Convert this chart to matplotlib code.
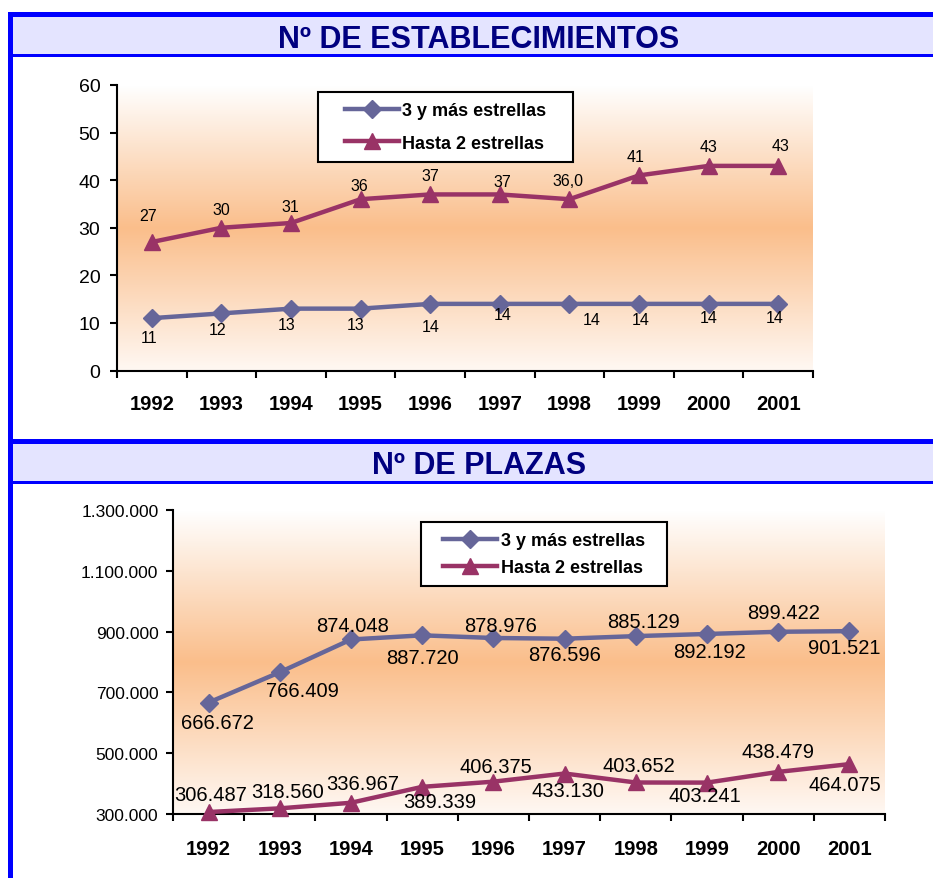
import matplotlib
matplotlib.use('Agg')
import matplotlib.pyplot as plt
import numpy as np
from matplotlib.patches import Rectangle
from matplotlib.colors import LinearSegmentedColormap

plt.rcParams['font.family'] = ['Liberation Sans', 'DejaVu Sans']

# Datos
years = ['1992', '1993', '1994', '1995', '1996', '1997', '1998', '1999', '2000', '2001']
series_names = ['3 y más estrellas', 'Hasta 2 estrellas']

est_3mas = [11, 12, 13, 13, 14, 14, 14, 14, 14, 14]
est_hasta2 = [27, 30, 31, 36, 37, 37, 36, 41, 43, 43]
est_3mas_labels = ['11', '12', '13', '13', '14', '14', '14', '14', '14', '14']
est_hasta2_labels = ['27', '30', '31', '36', '37', '37', '36,0', '41', '43', '43']
est_yticks = [0, 10, 20, 30, 40, 50, 60]

plz_3mas = [666672, 766409, 874048, 887720, 878976, 876596, 885129, 892192, 899422, 901521]
plz_hasta2 = [306487, 318560, 336967, 389339, 406375, 433130, 403652, 403241, 438479, 464075]
plz_yticks = [300000, 500000, 700000, 900000, 1100000, 1300000]

# Colores
c_3mas = '#666699'
c_hasta2 = '#993366'
c_blue = '#0000FF'
c_band = '#E4E4FF'
c_title = '#000080'

# desplazamientos de las etiquetas (pixeles)
est_off_3mas = [(-3, -19), (-4, -16), (-4, -16), (-5, -16), (0, -23), (3, -11), (22, -16), (2, -16), (0, -14), (-4, -14)]
est_off_hasta2 = [(-4, 27), (0, 18), (-1, 16), (-1, 14), (0, 19), (3, 13), (-1, 19), (-3, 19), (0, 19), (2, 20)]
plz_off_3mas = [(9, -20), (23, -18), (2, 14), (0, -22), (7, 12), (0, -16), (8, 15), (3, -18), (5, 19), (-5, -16)]
plz_off_hasta2 = [(2, 18), (8, 17), (12, 19), (18, -15), (2, 15), (3, -17), (3, 17), (-2, -13), (0, 20), (-5, -20)]

W, H = 933, 879
fig = plt.figure(figsize=(W / 100, H / 100), dpi=100)


def fx(x):
    return x / W


def fy(y):
    return 1 - y / H


def rect_px(x0, y0, x1, y1, **kw):
    fig.patches.append(Rectangle((fx(x0), fy(y1)), (x1 - x0) / W, (y1 - y0) / H,
                                 transform=fig.transFigure, **kw))


# Bandas de cabecera y borde azul
rect_px(13, 17, W, 55, facecolor=c_band, edgecolor='none')
rect_px(8, 13, W, 17.5, facecolor=c_blue, edgecolor='none')
rect_px(8, 55, W, 58, facecolor=c_blue, edgecolor='none')
rect_px(13, 444, W, 482, facecolor=c_band, edgecolor='none')
rect_px(8, 440, W, 444.5, facecolor=c_blue, edgecolor='none')
rect_px(8, 482, W, 485, facecolor=c_blue, edgecolor='none')
rect_px(8, 13, 12.5, H, facecolor=c_blue, edgecolor='none')

fig.text(fx(479), fy(39.5), 'Nº DE ESTABLECIMIENTOS', ha='center', va='center',
         fontsize=22, fontweight='bold', color=c_title)
fig.text(fx(479), fy(466), 'Nº DE PLAZAS', ha='center', va='center',
         fontsize=22, fontweight='bold', color=c_title)

grad = LinearSegmentedColormap.from_list('grad', [(0, '#FFF8F3'), (0.5, '#FABE8B'), (1, '#FFFFFF')])


def panel(box, vals_a, vals_b, labels_a, labels_b, off_a, off_b, yticks, ytlabels,
          ylim, lab_fs, ytick_fs, ypad, xpad, legbox, legspacing):
    x0, y0, x1, y1 = box
    ax = fig.add_axes([fx(x0), fy(y1), (x1 - x0) / W, (y1 - y0) / H])
    ax.imshow(np.linspace(0, 1, 256).reshape(-1, 1), cmap=grad, origin='lower',
              extent=(0, 1, 0, 1), transform=ax.transAxes, aspect='auto', zorder=0)
    x = np.arange(len(years))
    la, = ax.plot(x, vals_a, color=c_3mas, lw=3.2, marker='D', ms=9.5, clip_on=False, zorder=3)
    lb, = ax.plot(x, vals_b, color=c_hasta2, lw=3.2, marker='^', ms=12, clip_on=False, zorder=3)
    for xi, v, t, o in zip(x, vals_a, labels_a, off_a):
        ax.annotate(t, (xi, v), xytext=o, textcoords='offset pixels', ha='center', va='center',
                    fontsize=lab_fs, zorder=4)
    for xi, v, t, o in zip(x, vals_b, labels_b, off_b):
        ax.annotate(t, (xi, v), xytext=o, textcoords='offset pixels', ha='center', va='center',
                    fontsize=lab_fs, zorder=4)
    ax.set_xlim(-0.5, len(years) - 0.5)
    ax.set_ylim(*ylim)
    ax.set_xticks(np.arange(-0.5, len(years), 1))
    ax.set_xticklabels([])
    ax.set_xticks(x, minor=True)
    ax.set_xticklabels(years, minor=True, fontsize=14.5, fontweight='bold')
    ax.tick_params(axis='x', which='major', length=5, width=1.5, direction='out')
    ax.tick_params(axis='x', which='minor', length=0, pad=xpad)
    ax.set_yticks(yticks)
    ax.set_yticklabels(ytlabels, fontsize=ytick_fs)
    ax.tick_params(axis='y', length=5, width=1.5, pad=ypad)
    for s in ['top', 'right']:
        ax.spines[s].set_visible(False)
    for s in ['left', 'bottom']:
        ax.spines[s].set_linewidth(1.5)

    # leyenda
    lx0, ly0, lx1, ly1 = legbox
    rect_px(lx0, ly0, lx1, ly1, facecolor='white', edgecolor='black', linewidth=1.5, zorder=5)
    leg = fig.legend([la, lb], series_names, loc='center',
                     bbox_to_anchor=(fx((lx0 + lx1) / 2), fy((ly0 + ly1) / 2)),
                     frameon=False, numpoints=1, handlelength=3.0, handletextpad=0.2,
                     labelspacing=legspacing, borderpad=0,
                     prop={'weight': 'bold', 'size': 13})
    leg.set_zorder(6)
    return ax


panel((117, 86, 813, 371.5), est_3mas, est_hasta2, est_3mas_labels, est_hasta2_labels,
      est_off_3mas, est_off_hasta2, est_yticks, [str(v) for v in est_yticks], (0, 60),
      11.5, 14, 7, 17, (318, 93, 573, 163), 0.85)

plz_fmt = lambda v: f'{v:,}'.replace(',', '.')
panel((173, 511, 885, 815), plz_3mas, plz_hasta2, [plz_fmt(v) for v in plz_3mas],
      [plz_fmt(v) for v in plz_hasta2], plz_off_3mas, plz_off_hasta2, plz_yticks,
      [plz_fmt(v) for v in plz_yticks], (300000, 1300000), 14.5, 12.5, 5.5, 18,
      (421, 523, 667, 587), 0.55)

fig.savefig('out.png', dpi=100)
